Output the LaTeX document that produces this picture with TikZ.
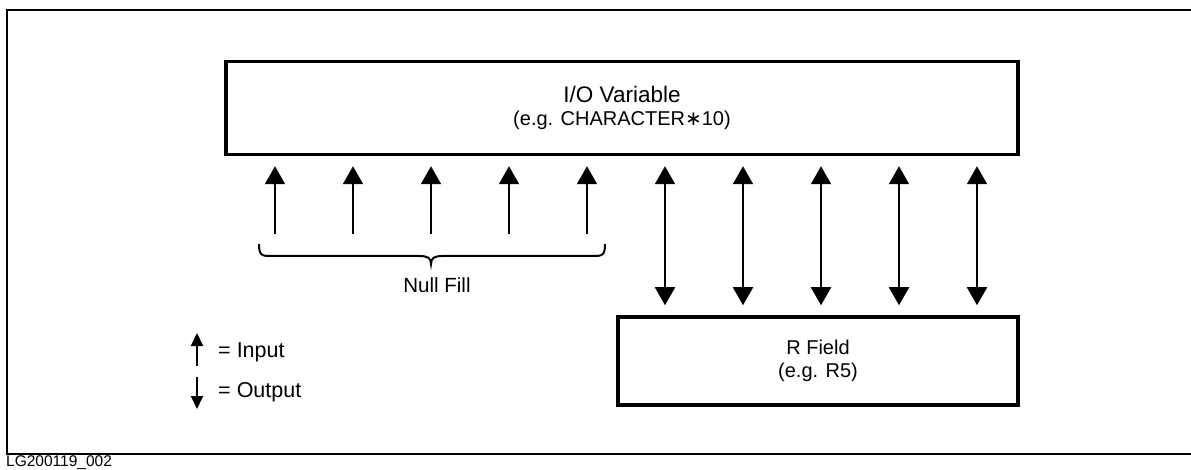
\documentclass[tikz,border=0pt]{standalone}
\usepackage{fontspec}
\setmainfont{Liberation Sans}
\newfontfamily\djv{DejaVu Sans}
\usetikzlibrary{arrows.meta}
\begin{document}
\begin{tikzpicture}[x=1pt,y=-1pt,
  frame/.style={line width=2.2pt},
  box/.style={draw, line width=3.5pt, inner sep=0pt, align=center, font=\fontsize{20}{23}\selectfont},
  arr/.style={line width=2pt, -{Triangle[width=20pt,length=18pt]}},
  darr/.style={line width=2pt, {Triangle[width=20pt,length=18pt]}-{Triangle[width=20pt,length=18pt]}},
  legarr/.style={line width=2pt, -{Triangle[width=12pt,length=13pt]}},
  lbl/.style={font=\fontsize{20.5}{24}\selectfont, inner sep=0pt},
  legtxt/.style={font=\fontsize{21.5}{24}\selectfont, inner sep=0pt, anchor=west},
  brace/.style={line width=2pt}]
\useasboundingbox (0,0) rectangle (1191,470);
% outer frame
\draw[frame] (1191,10) -- (7,10) -- (7,454) -- (1191,454);
% boxes
\node[box, minimum width=792pt, minimum height=93pt] (io) at (622,108)
  {{\fontsize{22.5}{26}\selectfont I/O Variable}\\(e.g. CHARACTER{\djv\raisebox{0.5pt}{∗}}10)};
\node[box, minimum width=400pt, minimum height=88pt] (rf) at (818,361)
  {R Field\\(e.g. R5)};
% input arrows
\foreach \x [count=\i] in {275,353,431,509,587} {
  \coordinate (u\i) at (\x,234);
  \draw[arr, shorten >=10pt] (u\i) -- (u\i |- io.south);
}
% bidirectional arrows
\foreach \x in {665,743,821,899,977} {
  \draw[darr, shorten >=10pt, shorten <=10pt] (\x,0 |- io.south) -- (\x,0 |- rf.north);
}
% brace
\coordinate (b1) at (259,244);
\coordinate (b2) at (605,244);
\coordinate (bc) at (431,264);
\draw[brace] (b1) .. controls (259,256) and (262,256) .. (272,256) -- (419,256)
  .. controls (428,256) and (431,258) .. (bc)
  .. controls (431,258) and (434,256) .. (443,256) -- (592,256)
  .. controls (602,256) and (605,256) .. (b2);
\node[lbl] (nf) at (437,285) {Null Fill};
% legend
\coordinate (li0) at (197,366);
\coordinate (li1) at (197,333);
\coordinate (lo0) at (197,377);
\coordinate (lo1) at (197,409);
\draw[legarr] (li0) -- (li1);
\draw[legarr] (lo0) -- (lo1);
\node[legtxt] (lin) at (218,352) {=\hspace{6pt}Input};
\node[legtxt] (lout) at (218,392) {=\hspace{6pt}Output};
% figure id
\node[anchor=west, inner sep=0pt, font=\fontsize{15.5}{18}\selectfont] (id) at (6,463) {LG200119\_002};
\end{tikzpicture}
\end{document}
